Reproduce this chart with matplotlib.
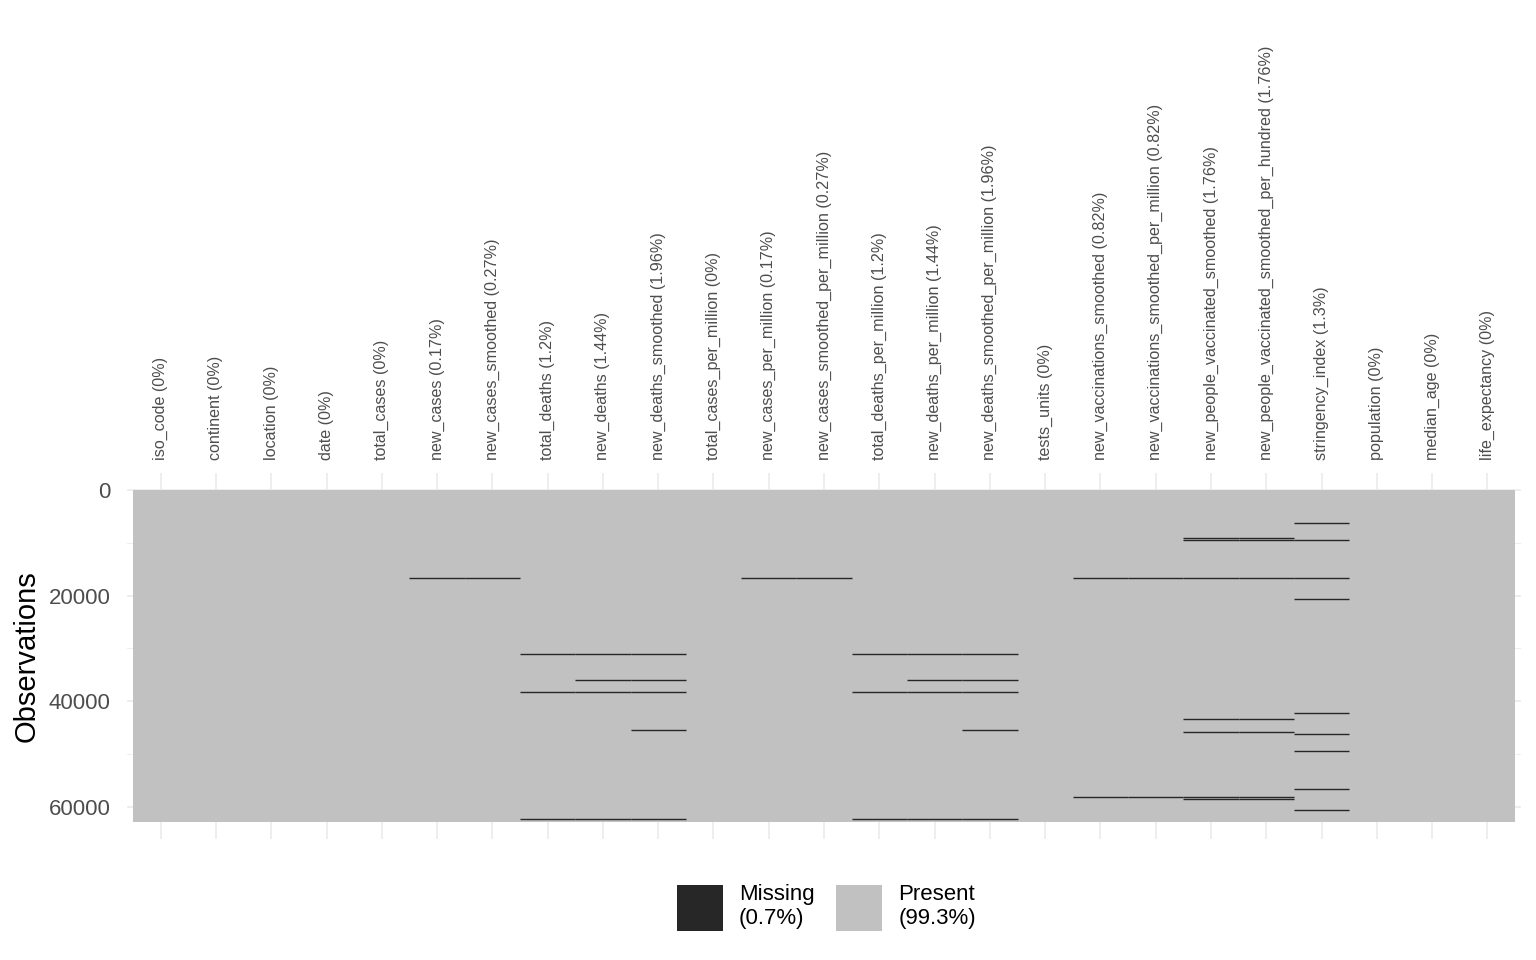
import matplotlib.pyplot as plt
import matplotlib.transforms as mtransforms
from matplotlib.patches import Patch

plt.rcParams['font.family'] = ['Liberation Sans', 'DejaVu Sans']

columns = [
    'iso_code', 'continent', 'location', 'date', 'total_cases', 'new_cases',
    'new_cases_smoothed', 'total_deaths', 'new_deaths', 'new_deaths_smoothed',
    'total_cases_per_million', 'new_cases_per_million',
    'new_cases_smoothed_per_million', 'total_deaths_per_million',
    'new_deaths_per_million', 'new_deaths_smoothed_per_million', 'tests_units',
    'new_vaccinations_smoothed', 'new_vaccinations_smoothed_per_million',
    'new_people_vaccinated_smoothed',
    'new_people_vaccinated_smoothed_per_hundred', 'stringency_index',
    'population', 'median_age', 'life_expectancy',
]
pct_missing = ['0%', '0%', '0%', '0%', '0%', '0.17%', '0.27%', '1.2%', '1.44%',
               '1.96%', '0%', '0.17%', '0.27%', '1.2%', '1.44%', '1.96%', '0%',
               '0.82%', '0.82%', '1.76%', '1.76%', '1.3%', '0%', '0%', '0%']
n_rows = 62850

# rows (approx.) where a block of missing values sits, per column
missing_rows = {
    'new_cases': [16714],
    'new_cases_smoothed': [16714],
    'total_deaths': [31040, 38230, 62325],
    'new_deaths': [31040, 36017, 38230, 62325],
    'new_deaths_smoothed': [31040, 36017, 38230, 45420, 62325],
    'new_cases_per_million': [16714],
    'new_cases_smoothed_per_million': [16714],
    'total_deaths_per_million': [31040, 38230, 62325],
    'new_deaths_per_million': [31040, 36017, 38230, 62325],
    'new_deaths_smoothed_per_million': [31040, 36017, 38230, 45420, 62325],
    'new_vaccinations_smoothed': [16714, 58164],
    'new_vaccinations_smoothed_per_million': [16714, 58164],
    'new_people_vaccinated_smoothed': [9142, 9520, 16714, 43399, 45860, 58164, 58543],
    'new_people_vaccinated_smoothed_per_hundred': [9142, 9520, 16714, 43399, 45860, 58164, 58543],
    'stringency_index': [6302, 9520, 16714, 20630, 42263, 46240, 49456, 56650, 60625],
}
legend_labels = ['Missing\n(0.7%)', 'Present\n(99.3%)']

present_col = '#C1C1C1'
missing_col = '#272727'

def main():
    fig = plt.figure(figsize=(15.36, 9.6), dpi=100)
    ax = fig.add_axes([0.083, 0.1265, 0.907, 0.3804])

    x = list(range(1, len(columns) + 1))
    ax.bar(x, [n_rows] * len(columns), bottom=0, width=1.0, color=present_col,
           linewidth=0, zorder=2)
    for i, col in enumerate(columns):
        rows = missing_rows.get(col, [])
        if rows:
            ax.hlines(rows, i + 0.5, i + 1.5, color=missing_col, lw=1.0, zorder=3)

    ax.set_xlim(0.4, len(columns) + 0.6)
    ax.set_ylim(n_rows * 1.05, -n_rows * 0.05)

    ax.xaxis.tick_top()
    ax.set_xticks(x)
    ax.set_xticklabels([f'{c} ({p})' for c, p in zip(columns, pct_missing)],
                       rotation=90, fontsize=11.6, color='#4D4D4D')
    shift = mtransforms.ScaledTranslation(-3 / 100, 0, fig.dpi_scale_trans)
    for lab in ax.get_xticklabels():
        lab.set_transform(lab.get_transform() + shift)
    ax.set_yticks([0, 20000, 40000, 60000])
    ax.set_yticks([10000, 30000, 50000], minor=True)
    ax.tick_params(axis='x', length=0, pad=9.5)
    ax.tick_params(axis='y', which='both', length=0, pad=12, labelsize=16,
                   labelcolor='#4D4D4D')
    ax.set_ylabel('Observations', fontsize=21, labelpad=6)

    ax.grid(True, which='major', color='#EBEBEB', lw=1.2)
    ax.grid(True, which='minor', axis='y', color='#EBEBEB', lw=0.6)
    ax.set_axisbelow(True)
    for s in ax.spines.values():
        s.set_visible(False)

    handles = [Patch(facecolor=missing_col), Patch(facecolor=present_col)]
    fig.legend(handles, legend_labels, loc='center', bbox_to_anchor=(0.538, 0.055),
               ncol=2, frameon=False, fontsize=16, handlelength=2.07,
               handleheight=2.81, handletextpad=0.72, columnspacing=1.0)

    fig.savefig('out.png', dpi=100)

if __name__ == '__main__':
    main()
